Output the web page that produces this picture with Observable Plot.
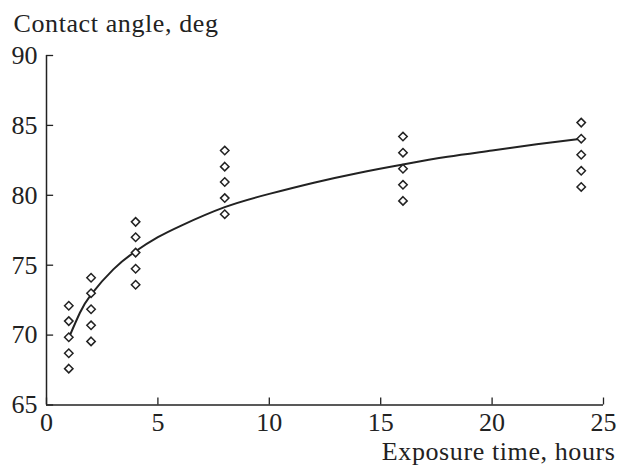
<!DOCTYPE html>
<html>
<head>
<meta charset="utf-8">
<script src="https://cdn.jsdelivr.net/npm/d3@7"></script>
<script src="https://cdn.jsdelivr.net/npm/@observablehq/plot@0.6"></script>
<style>
  html, body { margin: 0; padding: 0; background: #fff; }
  svg { font-family: "Liberation Serif", "DejaVu Serif", serif; }
  svg text { font-family: "Liberation Serif", "DejaVu Serif", serif; }
</style>
</head>
<body>
<div id="chart"></div>
<script>
// Measured data: exposure time (hours) and contact angle (deg)
const times = [1, 2, 4, 8, 16, 24];
const angles = [
  [72.1, 71.0, 69.85, 68.7, 67.6],
  [74.1, 73.0, 71.85, 70.7, 69.55],
  [78.1, 77.0, 75.9, 74.75, 73.6],
  [83.2, 82.05, 80.95, 79.8, 78.65],
  [84.2, 83.05, 81.9, 80.75, 79.6],
  [85.2, 84.05, 82.9, 81.75, 80.6]
];
// Fitted curve
const curveX = [1, 1.5, 2, 3, 4, 5, 6, 8, 10, 12, 14, 16, 18, 20, 22, 24];
const curveY = [69.8, 71.6, 72.9, 74.7, 76.0, 77.0, 77.8, 79.15, 80.1, 80.9, 81.6, 82.2, 82.75, 83.2, 83.65, 84.05];
// Axes
const xTicks = [0, 5, 10, 15, 20, 25];
const yTicks = [65, 70, 75, 80, 85, 90];
const xDomain = [0, 25];
const yDomain = [65, 90];
const xTitle = "Exposure time, hours";
const yTitle = "Contact angle, deg";

const points = times.flatMap((t, i) => angles[i].map(a => ({t, a})));
const curve = curveX.map((x, i) => ({x, y: curveY[i]}));

const ink = "#222";
const plot = Plot.plot({
  width: 618,
  height: 467,
  marginLeft: 46,
  marginRight: 15,
  marginTop: 55,
  marginBottom: 62.5,
  style: {fontFamily: "'Liberation Serif', serif", fontSize: "26px", color: ink, background: "#fff"},
  x: {domain: xDomain},
  y: {domain: yDomain},
  marks: [
    Plot.axisX({ticks: xTicks, tickSize: 0, tickPadding: 8, label: null, fontSize: 26}),
    Plot.axisY({ticks: yTicks, tickSize: 0, tickPadding: 9, label: null, fontSize: 26}),
    Plot.ruleX(xTicks, {y1: yDomain[0], y2: yDomain[0] + 0.5, stroke: ink, strokeWidth: 1.3}),
    Plot.ruleY(yTicks, {x1: xDomain[0], x2: xDomain[0] + 0.32, stroke: ink, strokeWidth: 1.3}),
    Plot.ruleX([xDomain[0]], {y1: yDomain[0], y2: yDomain[1], stroke: ink, strokeWidth: 1.5}),
    Plot.ruleY([yDomain[0]], {x1: xDomain[0], x2: xDomain[1], stroke: ink, strokeWidth: 1.5}),
    Plot.line(curve, {x: "x", y: "y", curve: "natural", stroke: ink, strokeWidth: 2}),
    Plot.dot(points, {x: "t", y: "a", symbol: "diamond2", r: 3.8, fill: "#fff", stroke: ink, strokeWidth: 1.5}),
    Plot.text([yTitle], {text: d => d, frameAnchor: "top-left", textAnchor: "start", lineAnchor: "bottom", dx: -33, dy: -24, fontSize: 26, fill: ink}),
    Plot.text([xTitle], {text: d => d, frameAnchor: "bottom-right", textAnchor: "end", lineAnchor: "bottom", dx: 12, dy: 54.5, fontSize: 26, fill: ink})
  ]
});
const svg = d3.select(plot);
svg.selectAll("text").filter(function() { const t = this.textContent; return t === xTitle || t === yTitle; }).style("letter-spacing", "0.6px");
document.getElementById("chart").appendChild(plot);
</script>
</body>
</html>
